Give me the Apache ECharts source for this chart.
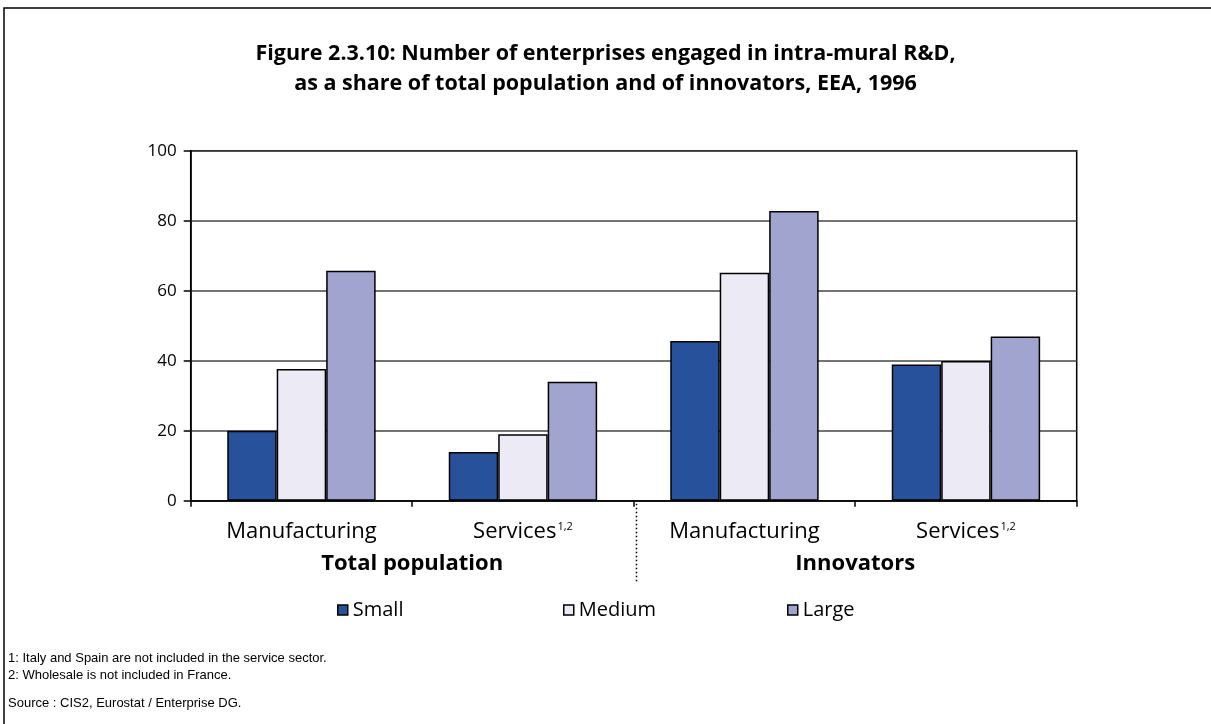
<!DOCTYPE html>
<html>
<head>
<meta charset="utf-8">
<script src="https://cdn.jsdelivr.net/npm/echarts@6/dist/echarts.min.js"></script>
<style>
  html, body { margin: 0; padding: 0; background: #fff; }
  #chart { width: 1211px; height: 724px; }
</style>
</head>
<body>
<div id="chart"></div>
<script>
// Sector categories (two per population group) and the population groups
const categories = ['Manufacturing', 'Services', 'Manufacturing', 'Services'];
const superscripts = ['', '1,2', '', '1,2'];
const groups = ['Total population', 'Innovators'];

// Share of enterprises engaged in intra-mural R&D (%), by enterprise size
const small  = [20, 13.9, 45.6, 38.9];
const medium = [37.6, 19, 65.1, 39.9];
const large  = [65.7, 34, 82.8, 46.9];
const sizes = ['Small', 'Medium', 'Large'];

const yTicks = { min: 0, max: 100, interval: 20 };

const footnotes = [
  '1: Italy and Spain are not included in the service sector.',
  '2: Wholesale is not included in France.'
];
const sourceNote = 'Source : CIS2, Eurostat / Enterprise DG.';

const FONT = '"Open Sans"';
const chart = echarts.init(document.getElementById('chart'));

const barStyle = (color) => ({
  color: color,
  borderColor: '#000',
  borderWidth: 1.5
});

// one legend entry per size class, in evenly spaced columns
const legendLefts = [337, 563, 787];
const legends = sizes.map((name, i) => ({
  left: legendLefts[i],
  top: 600,
  icon: 'rect',
  itemWidth: 10,
  itemHeight: 10,
  padding: 0,
  itemStyle: { borderColor: '#000', borderWidth: 1.5 },
  textStyle: { fontFamily: FONT, fontSize: 20, color: '#000', padding: [0, 0, 0, 0] },
  data: [name]
}));

const option = {
  backgroundColor: '#fff',
  animation: false,
  title: {
    text: 'Figure 2.3.10: Number of enterprises engaged in intra-mural R&D,\nas a share of total population and of innovators, EEA, 1996',
    left: 'center',
    top: 39,
    padding: 0,
    textStyle: {
      fontFamily: FONT,
      fontWeight: 'bold',
      fontSize: 21.5,
      lineHeight: 30,
      color: '#000'
    }
  },
  grid: {
    left: 190.7,
    right: 134.3,
    top: 150.7,
    bottom: 223.3,
    show: true,
    borderColor: '#000',
    borderWidth: 1.5,
    backgroundColor: 'transparent'
  },
  legend: legends,
  xAxis: [
    {
      type: 'category',
      data: categories,
      axisLine: { lineStyle: { color: '#000', width: 1.5 } },
      axisTick: { show: true, length: 6, lineStyle: { color: '#000', width: 1.5 } },
      axisLabel: {
        margin: 20,
        interval: 0,
        formatter: (v, i) => superscripts[i] ? '{n|' + v + '}{s|' + superscripts[i] + '}' : '{n|' + v + '}',
        rich: {
          n: { fontFamily: FONT, fontSize: 22, lineHeight: 22, color: '#000' },
          s: { fontFamily: FONT, fontSize: 11, lineHeight: 11, color: '#000', verticalAlign: 'top', padding: [1, 0, 0, 1] }
        }
      }
    },
    {
      type: 'category',
      data: groups,
      position: 'bottom',
      axisLine: { show: false },
      axisTick: { show: false },
      axisLabel: {
        margin: 52,
        interval: 0,
        fontFamily: FONT,
        fontWeight: 'bold',
        fontSize: 22,
        color: '#000'
      }
    }
  ],
  yAxis: {
    type: 'value',
    min: yTicks.min,
    max: yTicks.max,
    interval: yTicks.interval,
    axisLine: { show: true, lineStyle: { color: '#000', width: 1.5 } },
    axisTick: { show: true, length: 7, lineStyle: { color: '#000', width: 1.5 } },
    axisLabel: { margin: 14, fontFamily: FONT, fontSize: 17, color: '#000' },
    splitLine: { lineStyle: { color: '#444', width: 1.5 } }
  },
  series: [
    { name: sizes[0], type: 'bar', data: small,  barGap: '0%', barCategoryGap: '33%', itemStyle: barStyle('#27519b') },
    { name: sizes[1], type: 'bar', data: medium, barGap: '0%', barCategoryGap: '33%', itemStyle: barStyle('#ecebf5') },
    { name: sizes[2], type: 'bar', data: large,  barGap: '0%', barCategoryGap: '33%', itemStyle: barStyle('#a2a4d0') }
  ]
};

chart.setOption(option);

// Frame, dotted group separator and footnotes
const p1 = chart.convertToPixel({ xAxisIndex: 0 }, 1);
const p2 = chart.convertToPixel({ xAxisIndex: 0 }, 2);
const sepX = Math.round((p1 + p2) / 2) + 2.5;
const baseY = chart.convertToPixel({ yAxisIndex: 0 }, 0);

chart.setOption({
  graphic: [
    {
      type: 'rect',
      shape: { x: 4, y: 8, width: 1300, height: 800 },
      style: { fill: 'none', stroke: '#000', lineWidth: 1.5 },
      silent: true
    },
    {
      type: 'line',
      shape: { x1: sepX, y1: baseY + 3, x2: sepX, y2: baseY + 83 },
      style: { stroke: '#000', lineWidth: 1.5, lineDash: [1.5, 2.5] },
      silent: true
    },
    {
      type: 'text',
      left: 8,
      top: 650,
      style: {
        text: footnotes.join('\n'),
        font: '13px "Liberation Sans"',
        lineHeight: 17,
        fill: '#000'
      }
    },
    {
      type: 'text',
      left: 8,
      top: 695,
      style: {
        text: sourceNote,
        font: '13px "Liberation Sans"',
        lineHeight: 17,
        fill: '#000'
      }
    }
  ]
});
</script>
</body>
</html>
